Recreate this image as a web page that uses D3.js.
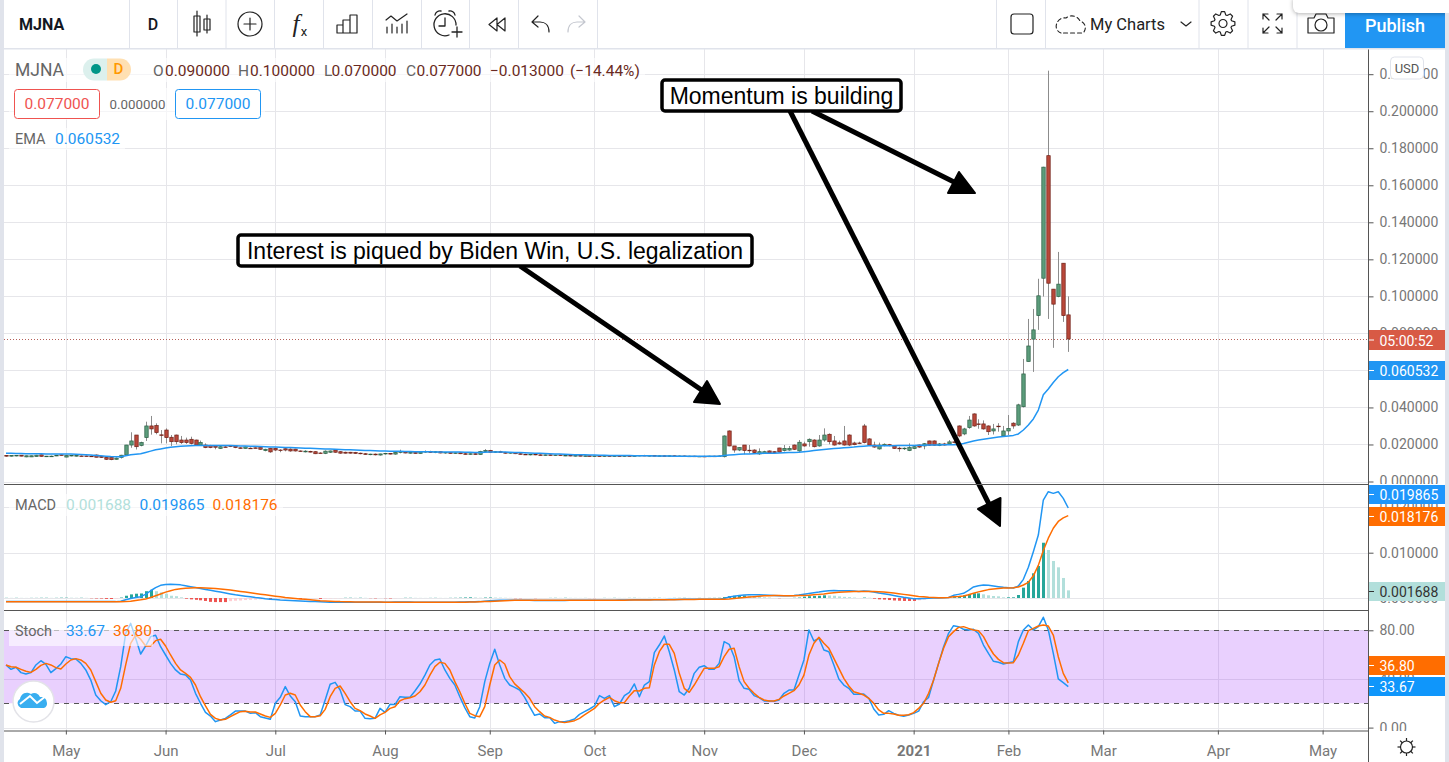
<!DOCTYPE html>
<html>
<head>
<meta charset="utf-8">
<style>
  html, body { margin: 0; padding: 0; background: #fff; overflow: hidden; }
</style>
<script src="https://cdn.jsdelivr.net/npm/d3@7"></script>
</head>
<body>
<div id="viz"></div>
<script>
const width = 1449
const height = 762
const FONT = "Roboto, 'Open Sans', sans-serif"

// price values are in thousandths of a dollar, one entry per trading day
const open = [
  14.0,13.8,14.0,14.2,13.3,13.3,13.5,14.4,13.4,13.6,
  13.8,14.4,13.2,13.8,13.7,13.8,13.8,13.7,14.3,13.6,
  13.0,13.0,12.0,13.0,14.3,19.7,25.1,19.5,23.7,30.0,
  30.2,25.2,27.8,23.9,25.1,22.4,22.4,22.8,22.4,19.7,
  19.7,19.4,19.2,17.9,18.7,19.2,19.2,18.2,17.9,18.0,
  18.2,18.3,16.7,17.9,17.9,17.0,17.7,17.5,17.5,16.5,
  16.0,16.2,16.1,15.4,15.2,15.8,17.0,16.1,15.8,15.8,
  15.7,15.3,15.0,14.6,14.8,14.3,14.9,15.2,14.8,15.7,
  16.0,15.4,15.6,15.2,15.9,16.2,15.7,16.1,15.4,15.7,
  15.2,15.5,15.0,14.7,15.0,14.6,16.2,16.8,15.8,16.1,
  15.6,15.3,15.6,15.0,14.7,14.5,14.7,14.4,14.2,14.4,
  14.1,14.3,14.0,14.1,13.8,14.0,13.8,13.9,13.7,13.8,
  13.6,13.9,13.7,13.8,13.6,13.9,13.7,13.9,14.1,13.8,
  14.0,13.7,13.9,13.7,13.9,13.6,13.8,13.6,13.7,13.5,
  13.6,13.5,13.7,13.5,13.4,27.3,19.2,17.0,19.7,16.9,
  17.0,14.9,15.2,16.5,16.1,18.1,16.7,17.0,19.7,16.5,
  20.3,21.5,22.4,19.2,22.4,25.5,21.9,20.9,21.9,25.1,
  20.8,20.8,30.0,23.0,19.7,17.6,19.4,19.9,19.2,18.0,
  17.8,16.7,17.8,19.7,19.2,21.9,21.9,19.4,20.3,20.3,
  21.4,30.0,25.7,29.1,36.5,31.1,31.1,30.0,27.3,29.9,
  24.6,27.3,31.5,30.5,40.4,64.8,76.9,89.6,109.8,176,
  103.9,99.9,117.9,90
];
const high = [
  14.2,14.1,14.2,14.3,14.0,14.0,14.4,14.6,13.8,14.0,
  14.3,14.6,14.2,14.2,14.2,14.1,14.0,14.0,14.6,13.8,
  13.5,13.3,13.0,14.4,19.8,26.6,25.1,21.5,32.3,35.4,
  31.4,27.8,28.7,25.1,25.3,24.6,23.7,24.2,22.6,22.1,
  20.6,19.8,19.5,19.3,19.1,19.4,19.5,18.5,19.0,18.4,
  18.4,18.5,17.7,18.2,18.3,17.4,18.0,17.9,17.7,16.8,
  16.9,16.6,16.4,15.8,16.8,16.7,17.3,16.4,16.1,16.0,
  16.0,15.6,15.4,15.0,15.1,15.0,15.4,15.4,16.0,17.2,
  16.3,15.8,15.9,16.1,16.8,16.6,16.4,16.3,15.9,15.9,
  15.7,15.7,15.4,15.2,15.3,16.6,17.5,17.1,16.4,16.6,
  16.0,15.8,15.8,15.3,15.0,14.9,15.0,14.7,14.6,14.6,
  14.5,14.5,14.3,14.3,14.1,14.2,14.1,14.1,14.0,14.0,
  14.0,14.1,14.0,14.1,14.0,14.2,14.0,14.3,14.4,14.2,
  14.2,14.1,14.2,14.0,14.1,14.0,14.0,13.9,13.9,13.8,
  13.9,13.9,13.9,14.0,24.9,27.6,19.2,18.6,19.7,19.7,
  17.4,17.9,16.6,16.8,16.4,18.2,19.7,19.2,20.0,22.4,
  21.5,23.3,22.8,25.1,28.7,26.0,24.6,22.1,30.0,25.5,
  21.5,21.5,31.1,23.4,21.5,21.0,20.6,20.3,19.4,18.8,
  18.4,20.6,19.3,20.0,20.8,22.1,22.2,20.8,20.9,22.4,
  22.2,30.3,29.0,35.4,36.8,33.6,33.0,30.3,31.1,31.5,
  30.0,35.9,32.0,42.0,66.2,87.8,93.2,109.5,170,221.9,
  104,124,118,100
];
const low = [
  13.4,13.5,13.6,13.6,13.1,13.2,13.4,13.4,13.2,13.4,
  13.7,14.0,13.1,13.6,13.5,13.5,13.4,13.3,13.0,12.7,
  11.6,11.5,11.8,12.4,14.0,18.2,17.3,19.0,21.9,25.3,
  25.5,20.6,20.6,19.2,20.1,20.3,20.3,20.0,19.4,19.4,
  18.0,18.0,17.4,17.6,18.2,18.6,18.0,17.7,17.7,17.6,
  17.8,17.2,16.3,15.5,16.4,15.8,16.3,16.1,16.2,16.0,
  15.7,15.7,14.8,15.0,14.8,15.4,15.5,15.0,15.1,15.1,
  14.9,14.7,14.4,14.2,14.1,14.0,14.5,14.6,14.5,15.2,
  15.2,15.0,15.0,15.0,15.5,15.5,15.3,15.2,15.0,15.0,
  14.9,14.8,14.5,14.4,14.4,14.4,15.8,15.6,15.4,15.4,
  15.0,15.0,14.8,14.5,14.3,14.1,14.2,14.0,13.9,13.9,
  13.8,13.8,13.7,13.6,13.5,13.6,13.5,13.5,13.4,13.5,
  13.4,13.5,13.4,13.5,13.4,13.6,13.5,13.6,13.7,13.5,
  13.6,13.5,13.6,13.4,13.5,13.4,13.5,13.4,13.4,13.3,
  13.4,13.3,13.4,13.3,13.0,19.0,15.6,16.4,14.7,15.2,
  15.0,14.4,14.9,15.0,15.2,15.6,16.2,16.6,17.0,16.0,
  18.8,18.8,18.4,18.8,21.5,20.1,19.4,19.9,19.4,19.2,
  19.6,20.2,20.6,19.4,18.2,17.2,19.0,19.0,17.6,16.1,
  17.0,16.4,17.5,18.2,17.4,19.3,19.3,19.1,19.4,20.0,
  20.6,23.9,25.0,28.5,29.6,28.5,28.0,25.1,25.4,26.9,
  24.3,25.1,28.5,30.0,40.0,64.8,59.2,81.9,99.9,87.8,
  72.2,99.5,86.2,70
];
const close = [
  13.8,14.0,14.1,13.7,13.9,13.9,14.2,13.6,13.7,13.7,
  14.2,14.1,14.0,14.1,14.0,13.7,13.5,13.5,13.1,13.0,
  12.0,11.8,12.6,14.2,19.7,21.9,18.8,21.0,30.0,28.4,
  26.4,25.0,23.7,21.5,21.5,21.0,21.0,20.6,19.7,21.0,
  18.3,18.3,18.5,18.8,18.5,19.0,18.3,17.9,18.7,17.9,
  18.0,17.4,17.4,16.0,17.0,16.9,17.0,16.5,16.5,16.2,
  16.4,16.0,15.0,15.2,16.4,16.5,15.8,15.3,15.3,15.3,
  15.2,15.0,14.6,14.8,14.4,14.9,15.2,14.8,15.7,16.0,
  15.4,15.6,15.2,15.9,16.2,15.7,16.1,15.4,15.7,15.2,
  15.5,15.0,14.7,15.0,14.6,16.2,16.8,15.8,16.1,15.6,
  15.3,15.6,15.0,14.7,14.5,14.7,14.4,14.2,14.4,14.1,
  14.3,14.0,14.1,13.8,14.0,13.8,13.9,13.7,13.8,13.6,
  13.9,13.7,13.8,13.6,13.9,13.7,13.9,14.1,13.8,14.0,
  13.7,13.9,13.7,13.9,13.6,13.8,13.6,13.7,13.5,13.6,
  13.5,13.7,13.5,13.8,24.6,19.2,17.0,18.3,16.7,16.8,
  15.6,16.1,16.1,15.4,15.6,15.9,17.9,17.9,17.4,21.2,
  19.2,22.8,18.8,22.4,25.1,21.5,19.7,20.3,19.7,19.7,
  19.9,20.6,21.0,19.7,18.6,19.7,20.1,19.4,17.9,17.9,
  18.0,18.3,18.8,18.6,20.4,19.6,19.6,20.3,19.7,21.4,
  21.0,24.6,28.4,33.2,30.0,31.0,28.4,26.9,28.4,29.7,
  27.3,28.7,30.0,41.4,58.1,73.2,81.9,100.3,169.8,107.1,
  95.8,106.6,89.6,77
];
const ema = [
  15.2,15.2,15.1,15.1,15.0,15.0,15.0,15.0,14.9,14.9,
  14.9,14.9,14.8,14.8,14.7,14.6,14.5,14.3,14.1,13.9,
  13.7,13.5,13.4,13.4,13.9,14.4,14.7,15.0,15.7,16.4,
  17.1,17.6,18.1,18.5,18.8,19.0,19.2,19.3,19.4,19.5,
  19.5,19.5,19.5,19.4,19.4,19.4,19.3,19.2,19.2,19.1,
  19.0,18.9,18.8,18.7,18.6,18.5,18.4,18.3,18.2,18.1,
  18.0,17.9,17.8,17.7,17.6,17.5,17.4,17.3,17.2,17.1,
  17.0,16.9,16.8,16.7,16.6,16.5,16.5,16.4,16.3,16.3,
  16.2,16.2,16.1,16.1,16.1,16.1,16.0,16.0,16.0,16.0,
  15.9,15.9,15.8,15.8,15.7,15.7,15.8,15.9,16.0,16.0,
  15.9,15.8,15.7,15.6,15.5,15.4,15.3,15.2,15.1,15.0,
  14.9,14.8,14.7,14.6,14.5,14.5,14.4,14.3,14.3,14.2,
  14.2,14.1,14.1,14.0,14.0,14.0,13.9,13.9,13.9,13.9,
  13.8,13.8,13.8,13.8,13.7,13.7,13.7,13.7,13.6,13.6,
  13.6,13.6,13.6,13.6,14.0,14.3,14.5,14.7,14.8,14.9,
  15.0,15.1,15.2,15.2,15.3,15.4,15.5,15.6,15.7,15.8,
  16.1,16.4,16.7,17.0,17.3,17.6,17.8,18.0,18.2,18.4,
  18.6,18.9,19.1,19.3,19.3,19.3,19.3,19.3,19.3,19.4,
  19.4,19.5,19.5,19.6,19.6,19.7,19.7,19.7,19.8,19.9,
  19.9,20.0,20.5,21.2,21.9,22.4,22.8,23.2,23.6,24.0,
  24.3,24.6,24.9,25.7,27.8,30.5,33.8,38.6,46.8,50.0,
  53.5,56.6,58.8,60.5
];

// MACD pane, also in thousandths
const macdLine = [
  -.8,-.8,-.8,-.8,-.8,-.8,-.8,-.8,-.8,-.8,
  -.8,-.8,-.8,-.8,-.8,-.8,-.8,-.8,-.8,-.8,
  -.8,-.8,-.8,-.7,-.4,-.1,.1,.3,.8,1.6,
  2.3,2.8,3.0,3.05,3.0,2.9,2.7,2.5,2.3,2.1,
  1.9,1.7,1.5,1.3,1.1,.9,.7,.55,.4,.25,
  .1,0,-.15,-.25,-.35,-.45,-.5,-.55,-.6,-.65,
  -.7,-.75,-.8,-.85,-.9,-.95,-.95,-.95,-.95,-.95,
  -.95,-.95,-.95,-.95,-.95,-.95,-.95,-.95,-.9,-.9,
  -.9,-.9,-.95,-.95,-.95,-.95,-.95,-.95,-.95,-.95,
  -.95,-.9,-.9,-.85,-.85,-.8,-.7,-.6,-.55,-.5,
  -.5,-.5,-.5,-.5,-.5,-.5,-.55,-.55,-.55,-.55,
  -.55,-.55,-.55,-.5,-.5,-.5,-.5,-.5,-.5,-.5,
  -.5,-.5,-.5,-.45,-.45,-.45,-.4,-.4,-.4,-.4,
  -.4,-.4,-.4,-.35,-.35,-.35,-.3,-.3,-.3,-.3,
  -.3,-.3,-.3,-.25,-.1,.2,.4,.55,.65,.7,
  .7,.7,.65,.6,.55,.5,.5,.5,.55,.65,
  .85,1.0,1.15,1.3,1.5,1.6,1.65,1.6,1.6,1.6,
  1.55,1.45,1.55,1.5,1.3,1.1,.95,.75,.55,.35,
  .15,0,-.15,-.15,-.1,-.05,0,0,.05,.1,
  .59,.8,1.03,1.7,2.43,2.7,2.87,2.8,2.64,2.5,
  2.35,2.25,2.2,2.64,4.12,6.77,10.23,13.9,21.63,23.47,
  23.1,23.47,22.0,19.865
];
const macdSignal = [
  -.85,-.85,-.85,-.85,-.85,-.85,-.85,-.85,-.85,-.85,
  -.85,-.85,-.85,-.85,-.85,-.85,-.85,-.85,-.85,-.85,
  -.85,-.85,-.85,-.85,-.8,-.7,-.55,-.4,-.2,.1,
  .5,.9,1.3,1.6,1.9,2.05,2.15,2.2,2.25,2.25,
  2.2,2.15,2.1,2.0,1.9,1.75,1.6,1.45,1.3,1.15,
  1.0,.85,.7,.55,.4,.25,.1,0,-.1,-.2,
  -.3,-.4,-.5,-.6,-.65,-.7,-.75,-.8,-.82,-.85,
  -.87,-.88,-.9,-.9,-.9,-.9,-.92,-.92,-.92,-.92,
  -.92,-.92,-.92,-.92,-.92,-.92,-.95,-.95,-.95,-.95,
  -.95,-.95,-.92,-.9,-.9,-.85,-.8,-.75,-.7,-.65,
  -.6,-.55,-.52,-.52,-.52,-.52,-.52,-.52,-.52,-.52,
  -.52,-.52,-.52,-.52,-.5,-.5,-.5,-.5,-.5,-.5,
  -.5,-.5,-.5,-.48,-.48,-.45,-.45,-.45,-.42,-.42,
  -.4,-.4,-.4,-.38,-.38,-.35,-.35,-.33,-.33,-.3,
  -.3,-.3,-.3,-.28,-.25,-.2,-.1,0,.1,.2,
  .3,.4,.5,.5,.55,.55,.5,.5,.5,.55,
  .55,.6,.7,.8,.9,1.05,1.15,1.25,1.35,1.4,
  1.45,1.45,1.45,1.45,1.45,1.4,1.3,1.2,1.1,.95,
  .8,.65,.5,.35,.25,.15,.1,.05,.05,.1,
  .29,.35,.44,.7,1.03,1.35,1.62,1.85,1.98,2.1,
  2.2,2.22,2.28,2.43,2.87,3.46,4.9,7.2,10.5,13.2,
  15.4,16.9,17.7,18.176
];
const macdHist = [
  .04,.03,.04,.03,.02,.03,.03,.05,.05,.03,
  .04,.07,.07,.06,.05,.05,.03,-.06,-.1,-.12,
  -.2,-.22,-.1,.1,.5,.8,.95,1.0,1.5,1.8,
  1.5,1.25,.95,.5,.4,.15,-.15,-.3,-.4,-.5,
  -.65,-.85,-.9,-.9,-.9,-.7,-.6,-.55,-.45,-.4,
  -.35,-.3,-.25,-.4,-.12,-.1,-.08,-.06,-.05,-.25,
  -.1,-.06,-.05,-.2,-.12,-.08,-.06,-.04,.05,.06,
  .05,.06,.04,-.04,-.08,-.05,-.05,-.1,-.05,-.02,
  .05,.05,.04,.03,.02,.03,.04,.03,.02,.04,
  .05,.08,.12,.15,.12,.06,.1,.12,.1,.08,
  .05,.03,-.05,-.05,-.03,-.02,-.04,-.03,-.02,.03,
  .04,.03,.05,.04,.03,.02,.02,-.02,-.03,-.02,
  .03,.02,.04,.03,.02,.03,.04,.03,.02,.02,
  .03,.04,.03,.02,.03,.03,.04,.03,.02,.03,
  .02,.03,.04,.05,.2,.4,.5,.55,.55,.5,
  .4,.3,.15,.1,0,-.05,0,0,.05,.1,
  .3,.4,.45,.5,.6,.55,.5,.35,.25,.2,
  .1,0,.1,.05,-.15,-.3,-.35,-.45,-.55,-.6,
  -.65,-.65,-.65,-.5,-.35,-.2,-.1,-.05,.05,.08,
  .2,.29,.59,.88,1.03,1.03,.81,.59,.44,.37,
  .15,.15,.15,.66,2.28,3.75,5.45,7.07,12.2,10.6,
  8.17,6.77,4.42,1.688
];

// Stoch pane
const stochK = [
  51.5,47.9,49.6,45.2,44,45.2,51.5,55,52,45.2,
  48.5,52.3,58.3,56.7,56.4,52.8,47.4,39.1,26.8,22.1,
  18.9,21.3,30.1,50.1,77.5,85.7,73.4,60.5,67.1,74.8,
  75.9,66.5,59.7,52.8,47.4,44,43.2,39.1,28.2,20,
  12.5,9.5,4.9,6.2,7.6,10.4,13.6,13.6,13.6,11.7,
  12.3,9,7.9,6.8,20,24.9,33.7,26,21.3,9.5,
  9,9,9,10.4,22.7,35.6,37.2,30.9,18.9,17.2,
  13.6,13.6,7.6,7.3,7.6,15.8,12.5,19.1,18.9,25.4,
  24.9,24.9,30.1,35.8,43.2,51.5,55.6,56.4,47.4,40.5,
  35,25.4,16.4,9,7.9,17.2,37.8,52.8,64.4,51.5,
  40.5,35,33.1,30.9,24.9,17.2,10.1,11.2,8.2,8.2,
  3.5,4.9,4.9,5.7,7.1,10.9,13.1,15.3,17.8,26.3,
  24.1,26.3,17.2,19.4,26.3,29,35.9,25.4,35,37.8,
  61.6,67.9,75.3,62.4,47.4,29.5,26.8,32.3,44.6,49.6,
  50.9,47.9,47.9,52.8,70.7,68.5,58.3,38.6,32.3,31.5,
  26.3,24.6,21.9,21.9,21.6,22.7,28.2,30.9,30.9,43.2,
  55.6,80.3,71.2,73.4,63.8,62.4,51.5,40,35,32.3,
  27.4,27.4,27.6,24.1,15.3,10.4,10.9,13.9,11.7,10.1,
  9.3,10.4,11.7,13.6,21.3,24.9,39.1,52.8,66.5,77.5,
  83.8,83,80.8,80.3,80.8,77.5,67.9,61,54.5,53.7,
  52.3,53.4,54.2,70.7,80.3,84.4,80.3,83,90.7,80.3,
  61,40,36.9,33.67
];
const stochD = [
  51.5,50.1,49.6,47.9,46.3,45.4,47.9,51.2,52.8,51.5,
  49.3,48.2,52.3,55.6,56.7,55.6,52.8,47.4,37.8,28.2,
  22.7,20.8,22.1,32.3,51.5,69.3,76.1,72.6,67.1,67.1,
  71.5,72.6,67.1,59.7,52.8,47.4,44.6,41.3,35,25.4,
  17.8,10.9,7.6,6.2,6.8,9,11.2,13.1,13.4,12.8,
  12.8,11.2,9.5,8.4,11.7,18.6,26.8,28.2,26.8,18.6,
  13.1,9,9,9.8,15,25.4,32.3,34.2,28.2,21.3,
  15.8,13.9,11.2,9.5,7.6,10.4,12.5,15.8,17.2,22.1,
  23.8,24.6,26,29.5,35,43.2,50.1,53.7,52.8,47.4,
  37.8,29.5,20,11.7,9.8,9,17.2,35,51.5,55.6,
  52.3,41.9,35.9,32.3,28.7,24.1,17.2,13.1,9.5,8.4,
  6.2,4.9,4.1,4.9,5.7,7.6,10.4,13.1,15.8,20,
  22.7,24.9,22.1,20.5,20.5,26,30.4,30.1,32.3,32.8,
  51.5,62.4,68.5,68.5,61,44.6,32.3,29,35,41.9,
  48.7,48.7,48.7,50.1,58.3,64.4,65.2,50.1,37.8,32.3,
  28.2,24.9,22.7,21.9,21.9,23.2,26,28.2,30.4,35,
  43.2,59.7,69.3,74.2,69.3,65.2,56.9,48.7,40.5,34.2,
  29.5,28.2,26.8,24.1,19.9,14.5,11.7,11.7,11.2,10.1,
  10.1,10.6,12.3,15.8,20,28.2,39.1,52.8,65.2,74.8,
  78.9,82.4,83,81.6,80.3,79.7,74.8,67.1,60.5,56.1,
  53.4,53.1,53.4,59.7,69.3,79.7,81.6,83.5,84.4,83.5,
  76.1,58.3,44.6,36.8
];

// axes
const monthIndex = [12, 32, 54, 76, 97, 118, 140, 160, 182, 201, 220, 243, 264];
const monthLabels = ["May", "Jun", "Jul", "Aug", "Sep", "Oct", "Nov", "Dec", "2021", "Feb", "Mar", "Apr", "May"];
const priceTicks = [0, 20, 40, 60, 80, 100, 120, 140, 160, 180, 200, 220];
const macdTicks = [0, 10, 20];
const stochTicks = [0, 40, 80];

const plotLeft = 4
const plotRight = 1368.5

const x = d3.scaleLinear().domain([0, 264]).range([6, 1322.6]);
const yPrice = d3.scaleLinear().domain([0, 220]).range([481.5, 74.2]);
const yMacd = d3.scaleLinear().domain([0, 20]).range([598, 507.4]);
const yStoch = d3.scaleLinear().domain([0, 80]).range([727.6, 630.3]);

const svg = d3.select("#viz").append("svg")
    .attr("width", width)
    .attr("height", height)
    .style("display", "block")
    .style("font-family", FONT);

const defs = svg.append("defs");
[["clipPrice", 48, 436], ["clipMacd", 485, 124], ["clipStoch", 611, 120]].forEach(function (c) {
    defs.append("clipPath").attr("id", c[0]).append("rect")
        .attr("x", 1369).attr("y", c[1]).attr("width", 80).attr("height", c[2]);
});

// ---- grid ----
const grid = svg.append("g").attr("stroke", "#e6e6ea").attr("stroke-width", 1);
monthIndex.forEach(function (i) {
    grid.append("line").attr("x1", Math.round(x(i)) + .5).attr("x2", Math.round(x(i)) + .5).attr("y1", 48).attr("y2", 731);
});
function hgrid(scale, ticks) {
    ticks.forEach(function (t) {
        grid.append("line").attr("x1", plotLeft).attr("x2", plotRight)
            .attr("y1", Math.round(scale(t)) + .5).attr("y2", Math.round(scale(t)) + .5);
    });
}
hgrid(yPrice, priceTicks);
hgrid(yMacd, macdTicks);
hgrid(yStoch, stochTicks);

// ---- price pane ----
const upFill = "#5b9c7b", upEdge = "#2c5f45", downFill = "#b9483a", downEdge = "#6e2016";

svg.append("line").attr("x1", plotLeft).attr("x2", plotRight)
    .attr("y1", Math.round(yPrice(close[close.length - 1])) + .5).attr("y2", Math.round(yPrice(close[close.length - 1])) + .5)
    .attr("stroke", "#b5605a").attr("stroke-dasharray", "1 2");

const candles = svg.append("g");
candles.selectAll("line").data(d3.range(close.length)).enter().append("line")
    .attr("x1", function (i) { return Math.round(x(i)) + .5 })
    .attr("x2", function (i) { return Math.round(x(i)) + .5 })
    .attr("y1", function (i) { return yPrice(high[i]) })
    .attr("y2", function (i) { return yPrice(low[i]) })
    .attr("stroke", "#8c8c8c");
candles.selectAll("rect").data(d3.range(close.length)).enter().append("rect")
    .attr("x", function (i) { return Math.round(x(i)) - 1.2 })
    .attr("width", 3.4)
    .attr("y", function (i) { return yPrice(Math.max(open[i], close[i])) })
    .attr("height", function (i) { return Math.max(.6, Math.abs(yPrice(open[i]) - yPrice(close[i]))) })
    .attr("fill", function (i) { return close[i] >= open[i] ? upFill : downFill })
    .attr("stroke", function (i) { return close[i] >= open[i] ? upEdge : downEdge })
    .attr("stroke-width", .7);

function seriesLine(values, scale, color, w) {
    svg.append("path").datum(values)
        .attr("fill", "none").attr("stroke", color).attr("stroke-width", w)
        .attr("stroke-linejoin", "round")
        .attr("d", d3.line().x(function (d, i) { return x(i) }).y(function (d) { return scale(d) }));
}
seriesLine(ema, yPrice, "#2196f3", 1.5);

// ---- macd pane ----
svg.append("g").selectAll("rect").data(macdHist).enter().append("rect")
    .attr("x", function (d, i) { return Math.round(x(i)) - 1 })
    .attr("width", 3)
    .attr("y", function (d) { return Math.min(yMacd(d), yMacd(0)) })
    .attr("height", function (d) { return Math.abs(yMacd(d) - yMacd(0)) })
    .attr("fill", function (d, i) {
        const prev = i > 0 ? macdHist[i - 1] : d;
        if (d >= 0) return d >= prev ? "#26a69a" : "#b2dfdb";
        return d <= prev ? "#ef5350" : "#ffcdd2";
    });
seriesLine(macdLine, yMacd, "#2196f3", 1.5);
seriesLine(macdSignal, yMacd, "#ff6d00", 1.5);

// ---- stoch pane ----
svg.append("rect").attr("x", plotLeft).attr("width", plotRight - plotLeft)
    .attr("y", yStoch(80)).attr("height", yStoch(20) - yStoch(80))
    .attr("fill", "rgba(147,20,250,.2)");
[80, 20].forEach(function (v) {
    svg.append("line").attr("x1", plotLeft).attr("x2", plotRight)
        .attr("y1", Math.round(yStoch(v)) + .5).attr("y2", Math.round(yStoch(v)) + .5)
        .attr("stroke", "#555").attr("stroke-dasharray", "5 5");
});
seriesLine(stochK, yStoch, "#2196f3", 1.5);
seriesLine(stochD, yStoch, "#ff6d00", 1.5);

// ---- legends ----
function txt(str, px, py, size, color, opts) {
    const t = svg.append("text").attr("x", px).attr("y", py).attr("font-size", size)
        .attr("fill", color).attr("dominant-baseline", "central").text(str);
    if (opts) Object.keys(opts).forEach(function (k) { t.attr(k, opts[k]) });
    return t;
}
[[9, 58, 636, 24], [9, 88, 256, 32], [9, 128, 116, 22], [9, 494, 274, 22], [9, 622, 144, 24]].forEach(function (r) {
    svg.append("rect").attr("x", r[0]).attr("y", r[1]).attr("width", r[2]).attr("height", r[3])
        .attr("fill", "#fff").attr("fill-opacity", .6);
});
const grey = "#666", ohlc = "#6a2a22";
txt("MJNA", 15, 69.5, 17.5, grey);
svg.append("path").attr("d", "M107,58.5 H94 a11,11 0 0 0 0,22 H107 Z").attr("fill", "#dcf0ed");
svg.append("path").attr("d", "M107,58.5 H120 a11,11 0 0 1 0,22 H107 Z").attr("fill", "#ffe0b2");
svg.append("circle").attr("cx", 96).attr("cy", 69).attr("r", 5).attr("fill", "#009688");
txt("D", 118.5, 69, 15, "#ff9800", { "text-anchor": "middle", "font-weight": 500 });
[["O", 153, grey], ["0.090000", 165, ohlc], ["H", 238, grey], ["0.100000", 250, ohlc], ["L", 324, grey], ["0.070000", 331.5, ohlc],
 ["C", 406, grey], ["0.077000", 416.5, ohlc], ["\u22120.013000", 490, ohlc], ["(\u221214.44%)", 570, ohlc]].forEach(function (d) {
    txt(d[0], d[1], 71, 15.5, d[2]);
});
svg.append("rect").attr("x", 14.5).attr("y", 89.5).attr("width", 85).attr("height", 29).attr("rx", 3)
    .attr("fill", "#fff").attr("stroke", "#ef5350");
txt("0.077000", 57, 104, 15.5, "#ef5350", { "text-anchor": "middle" });
txt("0.000000", 137.5, 104.5, 13.3, grey, { "text-anchor": "middle" });
svg.append("rect").attr("x", 175.5).attr("y", 89.5).attr("width", 85).attr("height", 29).attr("rx", 3)
    .attr("fill", "#fff").attr("stroke", "#2196f3");
txt("0.077000", 218, 104, 15.5, "#2196f3", { "text-anchor": "middle" });
txt("EMA", 15, 139, 14.5, grey);
txt("0.060532", 55, 139, 15.5, "#2196f3");
txt("MACD", 15, 505, 14.5, grey);
txt("0.001688", 66, 505, 15.5, "#b2dfdb");
txt("0.019865", 139.5, 505, 15.5, "#2196f3");
txt("0.018176", 212.5, 505, 15.5, "#ff6d00");
txt("Stoch", 15, 631, 14.5, grey);
txt("33.67", 66, 631, 15.5, "#2196f3");
txt("36.80", 113, 631, 15.5, "#ff6d00");

// ---- logo ----
svg.append("circle").attr("cx", 33.5).attr("cy", 701.5).attr("r", 20.5)
    .attr("fill", "#fff").attr("stroke", "#e3e3e8").attr("stroke-width", 1.5);
svg.append("path").attr("fill", "#38aef0")
    .attr("d", "M21,708 a5,5 0 0 1 -1,-9 a7,7 0 0 1 11,-5 a6,6 0 0 1 9,3 a6,6 0 0 1 7,6 a5,5 0 0 1 -3,5 Z");
svg.append("path").attr("fill", "none").attr("stroke", "#fff").attr("stroke-width", 2)
    .attr("d", "M20,704 L30,696 L37,703 L46,696");

// ---- annotations ----
const arrows = [
    { line: [520, 266, 706, 393], head: "M707,381 L720,404 L694,402 Z" },
    { line: [812, 111, 958, 184], head: "M959,172 L975,193 L948,193 Z" },
    { line: [790, 111, 990, 506], head: "M1000.5,498 L1000,526 L978,509 Z" }
];
arrows.forEach(function (a) {
    svg.append("line").attr("x1", a.line[0]).attr("y1", a.line[1]).attr("x2", a.line[2]).attr("y2", a.line[3])
        .attr("stroke", "#000").attr("stroke-width", 5);
    svg.append("path").attr("d", a.head).attr("fill", "#000").attr("stroke", "#000")
        .attr("stroke-width", 2).attr("stroke-linejoin", "round");
});
const notes = [
    { text: "Momentum is building", x: 662, y: 80, w: 239, h: 31 },
    { text: "Interest is piqued by Biden Win, U.S. legalization", x: 238, y: 235, w: 514, h: 31 }
];
notes.forEach(function (n) {
    svg.append("rect").attr("x", n.x).attr("y", n.y).attr("width", n.w).attr("height", n.h).attr("rx", 3)
        .attr("fill", "#fff").attr("stroke", "#000").attr("stroke-width", 3.5);
    svg.append("text").attr("x", n.x + n.w / 2).attr("y", n.y + n.h / 2 + .5)
        .attr("text-anchor", "middle").attr("dominant-baseline", "central")
        .attr("font-family", "'Liberation Sans', Arial, sans-serif").attr("font-size", 23).attr("fill", "#000")
        .text(n.text);
});

// ---- right scales ----
function rightAxis(scale, ticks, fmt, clip) {
    const g = svg.append("g").attr("transform", "translate(" + plotRight + ",0)");
    g.call(d3.axisRight(scale).tickValues(ticks).tickFormat(fmt).tickSize(5).tickPadding(6));
    g.select(".domain").remove();
    g.selectAll("line").attr("stroke", "#555");
    g.selectAll("text").attr("fill", "#777").attr("font-size", 14).attr("font-family", FONT);
    const wrap = svg.append("g").attr("clip-path", "url(#" + clip + ")");
    wrap.node().appendChild(g.node());
}
function priceFmt(v) { return d3.format(".6f")(v / 1000) }
rightAxis(yPrice, priceTicks, priceFmt, "clipPrice");
rightAxis(yMacd, macdTicks, priceFmt, "clipMacd");
rightAxis(yStoch, stochTicks, d3.format(".2f"), "clipStoch");

// value labels: fixed order and offsets on the scale, pushed apart like the original
const labels = [
    { text: "05:00:52", y: 330, h: 20, fill: "#d85a45", color: "#fff" },
    { text: "0.060532", y: 361, h: 19, fill: "#2196f3", color: "#fff" },
    { text: "0.019865", y: 485, h: 19, fill: "#1e96fc", color: "#fff" },
    { text: "0.018176", y: 507, h: 19, fill: "#ff6d00", color: "#fff" },
    { text: "0.001688", y: 582, h: 19, fill: "#b2dfdb", color: "#333" },
    { text: "36.80", y: 656, h: 19, fill: "#ff6d00", color: "#fff" },
    { text: "33.67", y: 677, h: 19, fill: "#0f96fb", color: "#fff" }
];
labels.forEach(function (l) {
    svg.append("rect").attr("x", 1369).attr("y", l.y).attr("width", 76).attr("height", l.h).attr("fill", l.fill);
    svg.append("line").attr("x1", 1369).attr("x2", 1374).attr("y1", l.y + l.h / 2).attr("y2", l.y + l.h / 2).attr("stroke", l.color);
    txt(l.text, 1379.5, l.y + l.h / 2 + .5, 14, l.color);
});

svg.append("rect").attr("x", 1390.5).attr("y", 57).attr("width", 33).attr("height", 22).attr("rx", 4)
    .attr("fill", "#fff").attr("stroke", "#e0e3eb");
txt("USD", 1407, 68, 13, "#555", { "text-anchor": "middle" });

// ---- separators and time axis ----
const sep = svg.append("g").attr("stroke", "#555");
sep.append("line").attr("x1", plotLeft).attr("x2", plotRight).attr("y1", 484.5).attr("y2", 484.5);
sep.append("line").attr("x1", plotLeft).attr("x2", plotRight).attr("y1", 610.5).attr("y2", 610.5);
sep.append("line").attr("x1", plotRight).attr("x2", plotRight).attr("y1", 48).attr("y2", height);

const timeAxis = svg.append("g").attr("transform", "translate(0,730.5)")
    .call(d3.axisBottom(x).tickValues(monthIndex)
        .tickFormat(function (d, i) { return monthLabels[i] }).tickSize(4).tickPadding(11));
timeAxis.select(".domain").attr("stroke", "#555").attr("d", "M" + plotLeft + ",0.5H" + plotRight);
timeAxis.selectAll("line").attr("stroke", "#555");
timeAxis.selectAll("text").attr("fill", "#777").attr("font-size", 15).attr("font-family", FONT)
    .attr("font-weight", function (d, i) { return monthLabels[i] === "2021" ? 700 : 400 });

// settings sun at the bottom right
const sun = svg.append("g").attr("transform", "translate(1406.5,747)")
    .attr("fill", "none").attr("stroke", "#222").attr("stroke-width", 1.2);
sun.append("circle").attr("r", 6);
d3.range(8).forEach(function (k) {
    const a = k * Math.PI / 4;
    sun.append("line").attr("x1", 6 * Math.cos(a)).attr("y1", 6 * Math.sin(a))
        .attr("x2", 9 * Math.cos(a)).attr("y2", 9 * Math.sin(a));
});

// ---- top toolbar ----
svg.append("rect").attr("x", 0).attr("y", 0).attr("width", width).attr("height", 48).attr("fill", "#fff");
svg.append("rect").attr("x", 0).attr("y", 48).attr("width", width).attr("height", 1.5).attr("fill", "#e0e3eb");
[129.5, 177.5, 226, 274.5, 323.5, 372.5, 421.5, 469.5, 518.5, 597.5, 996.5, 1045.5, 1199, 1248, 1297].forEach(function (px) {
    svg.append("line").attr("x1", px).attr("x2", px).attr("y1", 0).attr("y2", 48).attr("stroke", "#e0e3eb");
});
txt("MJNA", 19, 24.5, 16, "#131722", { "font-weight": 700 });
txt("D", 153, 24.5, 16, "#131722", { "text-anchor": "middle", "font-weight": 500 });

function icon(d, color, w) {
    return svg.append("path").attr("d", d).attr("fill", "none").attr("stroke", color || "#222")
        .attr("stroke-width", w || 1.2).attr("stroke-linejoin", "round").attr("stroke-linecap", "round");
}
// chart type candles
icon("M197,11V36 M194,16h6v16h-6Z M207,15V33 M204,19h6v11h-6Z");
// add compare
icon("M262,24a12,12 0 1 1 -24,0a12,12 0 1 1 24,0 M250,18V30 M244,24H256");
txt("f", 296, 23, 25, "#222", { "text-anchor": "middle", "font-family": "'Liberation Serif', serif", "font-style": "italic" });
txt("x", 304, 31, 13, "#222", { "text-anchor": "middle" });
// templates and indicators
icon("M337,33V25h6v8 M343,33V20h7v13 M350,33V15h7v18 M337,33H357");
icon("M386,20l5,-4l6,5l10,-7 M387,33v-6 M392,33v-9 M397,33v-6 M402,33v-9 M407,33v-12");
// alarm
icon("M456,25a11,11 0 1 0 -7,10 M445,18V26H439 M435,15a5,5 0 0 1 6,-4 M449,11a5,5 0 0 1 6,4 M452,32h10 M457,27V37", "#222", 1.3);
// replay, undo, redo
icon("M497,18v13l-8,-6.5Z M505,18v13l-8,-6.5Z");
icon("M549,32c0,-7 -4,-10 -9,-10H533 M538,16l-6,6l6,5");
icon("M568,32c0,-7 4,-10 9,-10h7 M579,16l6,6l-6,5", "#c4c7cf");
// layout, cloud
svg.append("rect").attr("x", 1011).attr("y", 14).attr("width", 22).attr("height", 20).attr("rx", 3)
    .attr("fill", "none").attr("stroke", "#222").attr("stroke-width", 1.2);
icon("M1061,33a7,7 0 0 1 -4,-10a8,8 0 0 1 9,-5a9,9 0 0 1 14,3a7,7 0 0 1 3,12Z", "#222", 1.1).attr("stroke-dasharray", "4 3");
txt("My Charts", 1090, 24.5, 16.5, "#222");
icon("M1181,22l5,4l5,-4");
// gear outline with eight teeth
const gearAngle = Math.PI / 16;
const gearPts = [];
d3.range(8).forEach(function (k) {
    const a = k * Math.PI / 4;
    gearPts.push([a - 1.6 * gearAngle, 9], [a - .7 * gearAngle, 12], [a + .7 * gearAngle, 12], [a + 1.6 * gearAngle, 9]);
});
const gear = svg.append("g").attr("transform", "translate(1223,23.5)").attr("fill", "none").attr("stroke", "#222").attr("stroke-width", 1.2);
gear.append("circle").attr("r", 4);
gear.append("path").attr("stroke-linejoin", "round").attr("d", d3.lineRadial().curve(d3.curveLinearClosed)(gearPts));
// fullscreen and camera
icon("M1263,19v-5h5 M1263,14l6,6 M1282,19v-5h-5 M1282,14l-6,6 M1263,28v5h5 M1263,33l6,-6 M1282,28v5h-5 M1282,33l-6,-6");
icon("M1308,33V18h6l2,-4h10l2,4h6v15Z M1327,25a6,6 0 1 1 -12,0a6,6 0 1 1 12,0");
// publish
svg.append("rect").attr("x", 1345).attr("y", 0).attr("width", 100).attr("height", 48).attr("fill", "#2196f3");
txt("Publish", 1395, 25, 18, "#fff", { "text-anchor": "middle", "font-weight": 500 });
// popup corner
svg.append("path").attr("d", "M1293,-2V7a6,6 0 0 0 6,6H1449V-2Z").attr("fill", "#fff")
    .style("filter", "drop-shadow(0 1px 2px rgba(0,0,0,.3))");

// page edges
svg.append("rect").attr("x", 0).attr("y", 0).attr("width", 4).attr("height", height).attr("fill", "#e0e3eb");
svg.append("rect").attr("x", 1445).attr("y", 13).attr("width", 4).attr("height", height).attr("fill", "#e0e3eb");
</script>
</body>
</html>
